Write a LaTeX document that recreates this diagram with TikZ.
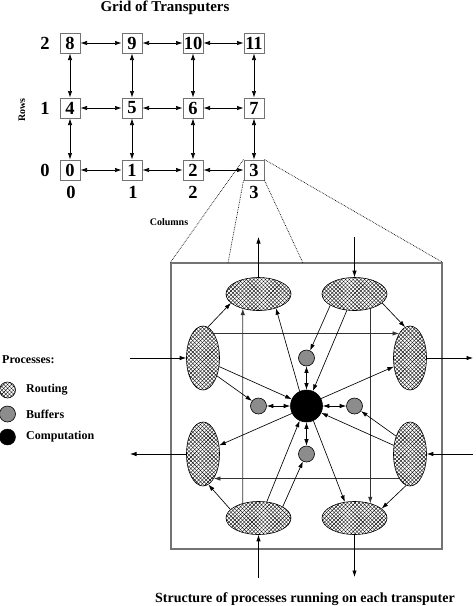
\documentclass[tikz,border=0pt]{standalone}
\usepackage{fontspec}
\setmainfont{Liberation Serif}
\usetikzlibrary{arrows.meta,patterns.meta,shapes.geometric}

\tikzset{
  >={Latex[length=6.5pt,width=4.4pt]},
  link/.style={line width=0.65pt,->},
  duplex/.style={line width=0.65pt,<->},
  zoomline/.style={densely dotted,line width=0.7pt},
  pe/.style={draw=black!55,line width=1pt,fill=white,minimum size=20pt,inner sep=0pt,
    font=\fontsize{18.5}{18.5}\selectfont\bfseries},
  axislbl/.style={font=\fontsize{18.5}{18.5}\selectfont\bfseries,inner sep=0pt},
  smalllbl/.style={font=\fontsize{10}{10}\selectfont\bfseries,inner sep=0pt},
  keylbl/.style={font=\fontsize{12}{12}\selectfont\bfseries,inner sep=0pt,anchor=west},
  router/.style={ellipse,draw,line width=0.6pt,inner sep=0pt,
    preaction={fill=white},
    preaction={pattern={Lines[angle=45,distance=2.7pt,line width=0.38pt]}},
    pattern={Lines[angle=-45,distance=2.7pt,line width=0.38pt]}},
  hrouter/.style={router,minimum width=65pt,minimum height=33pt},
  vrouter/.style={router,minimum width=33pt,minimum height=64pt},
  buffer/.style={circle,draw,line width=0.6pt,fill=black!45,minimum size=16pt,inner sep=0pt},
  compute/.style={circle,draw,line width=0.6pt,fill=black,minimum size=32pt,inner sep=0pt},
}

\begin{document}
\begin{tikzpicture}[x=1pt,y=-1pt]
\useasboundingbox (0,0) rectangle (475,606);

% ---------- grid of transputers ----------
\node[font=\fontsize{15}{15}\selectfont\bfseries] (title) at (165,8) {Grid of Transputers};

\foreach \n/\cx/\cy in {0/70/170,1/132/170,2/193/170,3/254/170,
                        4/70/108,5/132/108,6/193/108,7/254/108,
                        8/70/43,9/132/43,10/193/43,11/254/43}
  \node[pe] (g\n) at (\cx,\cy) {\n};

\foreach \a/\b in {0/1,1/2,2/3,4/5,5/6,6/7,8/9,9/10,10/11,
                   0/4,4/8,1/5,5/9,2/6,6/10,3/7,7/11}
  \draw[duplex] (g\a) -- (g\b);

\node[axislbl] (row0) at (45,170) {0};
\node[axislbl] (row1) at (45,108) {1};
\node[axislbl] (row2) at (45,43) {2};
\node[axislbl] (col0) at (71,192) {0};
\node[axislbl] (col1) at (133,192) {1};
\node[axislbl] (col2) at (193,192) {2};
\node[axislbl] (col3) at (254,192) {3};
\node[smalllbl,rotate=90] (rows) at (22,110) {Rows};
\node[smalllbl] (cols) at (169,222) {Columns};

% ---------- one transputer, enlarged ----------
\node[draw=black!55,line width=1.3pt,minimum width=271pt,minimum height=286pt,inner sep=0pt]
  (board) at (306.5,406) {};
\coordinate (edgeA) at (228,263);
\coordinate (edgeB) at (303,263);
\draw[zoomline] (g3.north west) -- (board.north west);
\draw[zoomline] (g3.south west) -- (edgeA);
\draw[zoomline] (g3.south east) -- (edgeB);
\draw[zoomline] (g3.north east) -- (board.north east);

% routing processes
\node[hrouter] (TL) at (258.5,294) {};
\node[hrouter] (TR) at (354.5,294) {};
\node[vrouter] (L1) at (203,358) {};
\node[vrouter] (R1) at (410,358) {};
\node[vrouter] (L2) at (203,454) {};
\node[vrouter] (R2) at (410,454) {};
\node[hrouter] (BL) at (258.5,518) {};
\node[hrouter] (BR) at (354.5,518) {};

% computation and buffers
\node[compute] (C) at (306.5,406) {};
\node[buffer] (Bt) at (306.5,358) {};
\node[buffer] (Bb) at (306.5,454) {};
\node[buffer] (Bl) at (258.5,406) {};
\node[buffer] (Br) at (354.5,406) {};

% external links
\coordinate (nOut) at (258.5,237);
\coordinate (nIn)  at (354.5,237);
\coordinate (wIn)  at (130,358);
\coordinate (wOut) at (130,454);
\coordinate (eOut) at (473,358);
\coordinate (eIn)  at (473,454);
\coordinate (sIn)  at (258.5,578);
\coordinate (sOut) at (354.5,577);
\draw[link] (TL.north) -- (nOut);
\draw[link] (nIn) -- (TR.north);
\draw[link] (wIn) -- (L1.west);
\draw[link] (L2.west) -- (wOut);
\draw[link] (R1.east) -- (eOut);
\draw[link] (eIn) -- (R2.east);
\draw[link] (sIn) -- (BL.south);
\draw[link] (BR.south) -- (sOut);

% router to router
\draw[link] (L1.81) -- (TL.198);
\draw[link] (TR.342) -- (R1.99);
\draw[link] (BL.163) -- (L2.-80);
\draw[link] (R2.-97) -- (BR.19);
\draw[link,black!80] (BL.137) -- (TL.223);
\draw[link,black!80] (TR.-43) -- (BR.43);
\draw[link,black!80] (L1.66) -- (R1.114);
\draw[link,black!80] (R2.-114) -- (L2.-66);

% routers and computation
\draw[link] (L1.-28) -- (C.155);
\draw[link] (R2.152) -- (C.-25);
\draw[link] (TR.-115) -- (C.67);
\draw[link] (BL.63) -- (C.245);
\draw[link] (C.27) -- (R1.208);
\draw[link] (C.207) -- (L2.28);
\draw[link] (C.115) -- (TL.-39);
\draw[link] (C.-65) -- (BR.121);

% routers to buffers
\draw[link] (L1.-52) -- (Bl.142);
\draw[link] (R2.128) -- (Br.-38);
\draw[link] (TR.205) -- (Bt.64);
\draw[link] (BL.25) -- (Bb.244);

% buffers and computation
\draw[duplex] (C) -- (Bt);
\draw[duplex] (C) -- (Bb);
\draw[duplex] (C) -- (Bl);
\draw[duplex] (C) -- (Br);

% ---------- key ----------
\node[keylbl] (keyhead) at (2,360) {Processes:};
\node[router,circle,minimum size=16pt] (keyR) at (7.5,390) {};
\node[buffer] (keyB) at (7.5,414) {};
\node[circle,draw,fill=black,minimum size=16pt,inner sep=0pt] (keyC) at (7.5,437) {};
\node[keylbl] (keyRt) at (26,390) {Routing};
\node[keylbl] (keyBt) at (26,414) {Buffers};
\node[keylbl] (keyCt) at (26,437) {Computation};

% ---------- caption ----------
\node[font=\fontsize{14}{14}\selectfont\bfseries] (caption) at (305,599)
  {Structure of processes running on each transputer};
\end{tikzpicture}
\end{document}
